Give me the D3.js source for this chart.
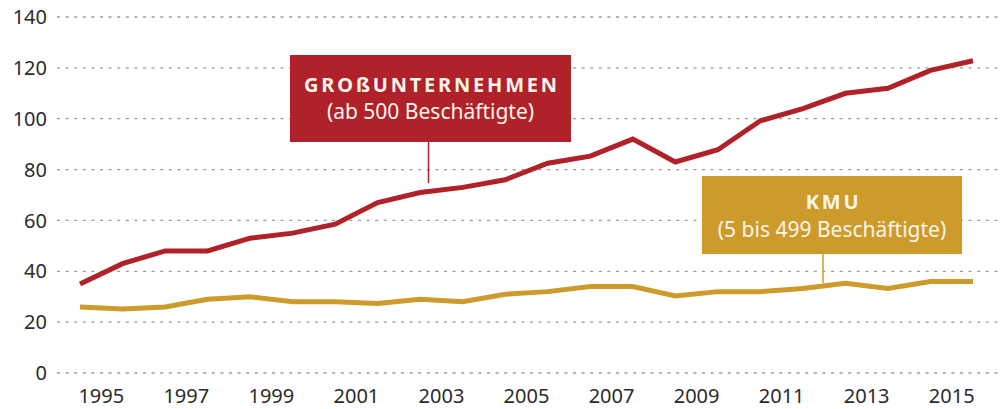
<!DOCTYPE html>
<html>
<head>
<meta charset="utf-8">
<script src="https://cdn.jsdelivr.net/npm/d3@7"></script>
<style>
  body { margin: 0; background: #fff; }
  svg text { font-family: "Noto Sans", sans-serif; }
</style>
</head>
<body>
<div id="chart"></div>
<script>
// data
const years = d3.range(1995, 2017);
const grossValues = [35, 43, 48, 48, 53, 55, 58.5, 67, 71, 73, 76, 82.5, 85.3, 92, 83, 87.8, 99.2, 104, 110, 112, 119, 122.8];
const kmuValues = [26, 25.2, 26, 29, 30, 28, 28, 27.3, 29, 28, 31, 32, 34, 34, 30.3, 32, 32, 33.2, 35.3, 33.2, 36, 36];
const yTicks = [0, 20, 40, 60, 80, 100, 120, 140];
const xTickYears = [1995, 1997, 1999, 2001, 2003, 2005, 2007, 2009, 2011, 2013, 2015];

const grossLabel = ["GROßUNTERNEHMEN", "(ab 500 Beschäftigte)"];
const kmuLabel = ["KMU", "(5 bis 499 Beschäftigte)"];

const W = 1000, H = 409;
const red = "#b0212a", gold = "#cd9b2c";

const svg = d3.select("#chart").append("svg")
  .attr("width", W)
  .attr("height", H);

// scales
const xScale = d3.scaleLinear().domain([1995, 2016]).range([80, 973]);
const yScale = d3.scaleLinear().domain([0, 140]).range([373, 17]);

// grid + y labels
const grid = svg.append("g").attr("class", "grid");
grid.selectAll("line").data(yTicks).enter().append("line")
  .attr("x1", 57).attr("x2", W)
  .attr("y1", d => yScale(d)).attr("y2", d => yScale(d))
  .attr("stroke", "#9a9a9a")
  .attr("stroke-width", 1.3)
  .attr("stroke-dasharray", "3,5.6");

grid.selectAll("text").data(yTicks).enter().append("text")
  .attr("x", 47)
  .attr("y", d => yScale(d))
  .attr("dy", "0.36em")
  .attr("text-anchor", "end")
  .attr("font-size", 20)
  .attr("fill", "#2b2b2b")
  .text(d => d);

// x labels (centred between year points)
svg.append("g").selectAll("text").data(xTickYears).enter().append("text")
  .attr("x", d => xScale(d + 0.5))
  .attr("y", 402.5)
  .attr("text-anchor", "middle")
  .attr("font-size", 20)
  .attr("fill", "#2b2b2b")
  .text(d => d);

// lines
const line = d3.line()
  .x((d, i) => xScale(years[i]))
  .y(d => yScale(d));

svg.append("path")
  .datum(kmuValues)
  .attr("d", line)
  .attr("fill", "none")
  .attr("stroke", gold)
  .attr("stroke-width", 5);

svg.append("path")
  .datum(grossValues)
  .attr("d", line)
  .attr("fill", "none")
  .attr("stroke", red)
  .attr("stroke-width", 5);

// annotation boxes
function labelBox(box, lines, color, leaderX, leaderY2) {
  const g = svg.append("g");
  g.append("line")
    .attr("x1", leaderX).attr("x2", leaderX)
    .attr("y1", box.y + box.h).attr("y2", leaderY2)
    .attr("stroke", color)
    .attr("stroke-width", 1.5);
  g.append("rect")
    .attr("x", box.x).attr("y", box.y)
    .attr("width", box.w).attr("height", box.h)
    .attr("fill", color);
  const cx = box.x + box.w / 2;
  g.append("text")
    .attr("x", cx + 1.5).attr("y", box.y + box.t1)
    .attr("text-anchor", "middle")
    .attr("font-size", 20)
    .attr("font-weight", "bold")
    .attr("letter-spacing", 2.8)
    .attr("fill", "#fbf5ea")
    .text(lines[0]);
  g.append("text")
    .attr("x", cx).attr("y", box.y + box.t2)
    .attr("text-anchor", "middle")
    .attr("font-size", 21)
    .attr("fill", "#fbf5ea")
    .text(lines[1]);
}

labelBox({ x: 290, y: 55, w: 281, h: 87, t1: 37, t2: 63.5 }, grossLabel, red, 428.5, 183);
labelBox({ x: 702, y: 176, w: 260, h: 78, t1: 32.5, t2: 61 }, kmuLabel, gold, 823, 283);
</script>
</body>
</html>
